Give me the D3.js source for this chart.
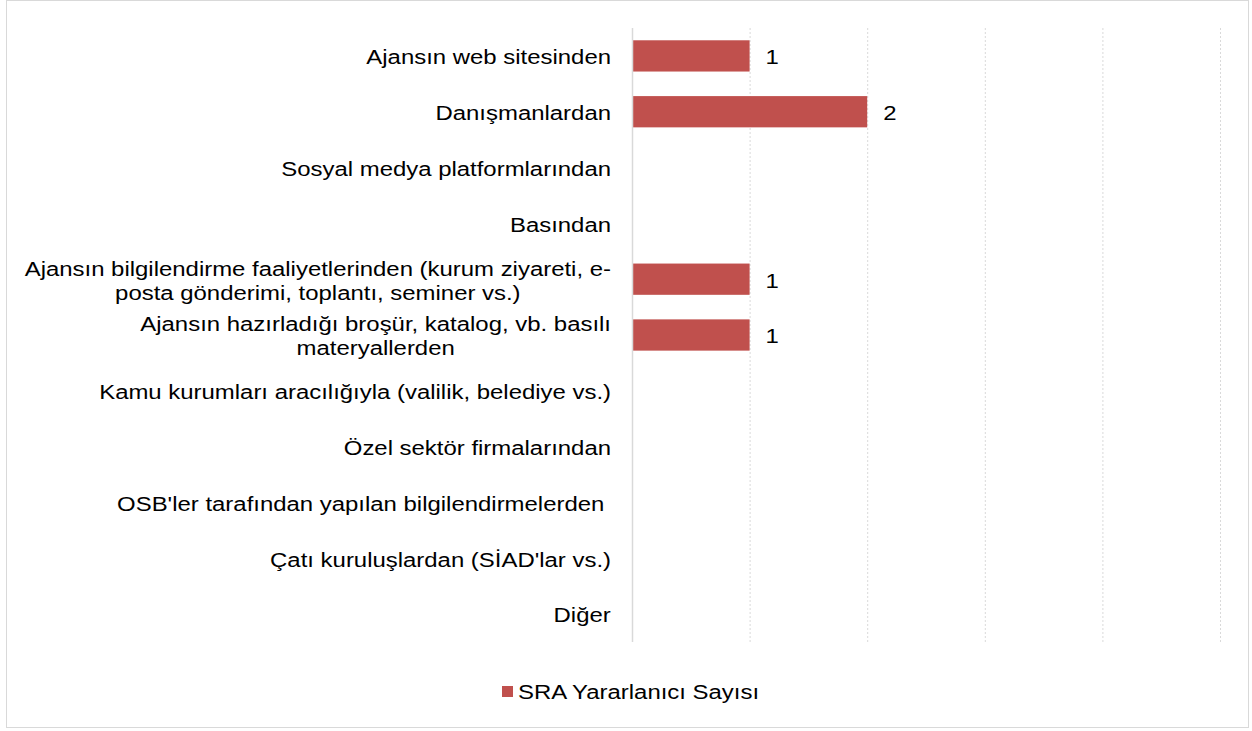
<!DOCTYPE html>
<html>
<head>
<meta charset="utf-8">
<script src="https://cdn.jsdelivr.net/npm/d3@7"></script>
<style>
  body { margin: 0; background: #fff; }
  text { font-family: "Liberation Sans", Arial, sans-serif; fill: #000; white-space: pre; }
</style>
</head>
<body>
<script>
// categories, each label split into its display lines
var categories = [
  ["Ajansın web sitesinden"],
  ["Danışmanlardan"],
  ["Sosyal medya platformlarından"],
  ["Basından"],
  ["Ajansın bilgilendirme faaliyetlerinden (kurum ziyareti, e-", "posta gönderimi, toplantı, seminer vs.)"],
  ["Ajansın hazırladığı broşür, katalog, vb. basılı", "materyallerden"],
  ["Kamu kurumları aracılığıyla (valilik, belediye vs.)"],
  ["Özel sektör firmalarından"],
  ["OSB'ler tarafından yapılan bilgilendirmelerden "],
  ["Çatı kuruluşlardan (SİAD'lar vs.)"],
  ["Diğer"]
];
var values = [1, 2, 0, 0, 1, 1, 0, 0, 0, 0, 0];
var xTicks = [0, 1, 2, 3, 4, 5];
var seriesName = "SRA Yararlanıcı Sayısı";

var W = 1252, H = 731;
var FS = "21px", SX = 1.14; // the reference text is slightly stretched sideways

var svg = d3.select("body").append("svg")
  .attr("width", W)
  .attr("height", H);

// chart frame
svg.append("rect")
  .attr("x", 6.5).attr("y", 0.5)
  .attr("width", 1242).attr("height", 727)
  .attr("fill", "#fff")
  .attr("stroke", "#d9d9d9")
  .attr("stroke-width", 1);

var x = d3.scaleLinear().domain([0, 5]).range([632, 1220]);
var y = d3.scaleBand()
  .domain(d3.range(categories.length))
  .range([28, 642])
  .paddingInner(0.44)
  .paddingOuter(0.22);

// helper: text placed at (ax, ay) and stretched horizontally
function label(ax, ay, anchor) {
  return svg.append("g")
    .attr("transform", "translate(" + ax + "," + ay + ") scale(" + SX + ",1)")
    .append("text")
    .attr("text-anchor", anchor)
    .style("font-size", FS);
}

// gridlines
svg.append("g").selectAll("line")
  .data(xTicks.slice(1))
  .enter().append("line")
  .attr("x1", function(d) { return x(d) + 0.5; })
  .attr("x2", function(d) { return x(d) + 0.5; })
  .attr("y1", 28).attr("y2", 642)
  .attr("stroke", "#d9d9d9")
  .attr("stroke-width", 1)
  .attr("stroke-dasharray", "2,2");

// bars
svg.append("g").selectAll("rect")
  .data(values)
  .enter().append("rect")
  .attr("x", x(0))
  .attr("y", function(d, i) { return y(i); })
  .attr("width", function(d) { return x(d) - x(0); })
  .attr("height", y.bandwidth())
  .attr("fill", "#c0504d");

// axis line
svg.append("line")
  .attr("x1", x(0) + 0.5).attr("x2", x(0) + 0.5)
  .attr("y1", 28).attr("y2", 642)
  .attr("stroke", "#d9d9d9")
  .attr("stroke-width", 1.5);

// value labels
values.forEach(function(d, i) {
  if (d <= 0) return;
  label(x(d) + 16, y(i) + y.bandwidth() / 2 + 1, "start")
    .attr("dy", "0.35em")
    .text(d);
});

// category labels (lines centred on each other, block right aligned)
var lineH = 24;
categories.forEach(function(lines, i) {
  var cy = y(i) + y.bandwidth() / 2 + 1;
  var t = label(0, cy, "middle");
  lines.forEach(function(l, k) {
    t.append("tspan")
      .attr("x", 0)
      .attr("y", (k - (lines.length - 1) / 2) * lineH)
      .attr("dy", "0.35em")
      .text(l);
  });
  var bb = t.node().getBBox();
  d3.select(t.node().parentNode)
    .attr("transform", "translate(" + (611 - bb.width * SX / 2) + "," + cy + ") scale(" + SX + ",1)");
});

// legend
svg.append("rect")
  .attr("x", 502).attr("y", 686)
  .attr("width", 11).attr("height", 11)
  .attr("fill", "#c0504d");
label(518, 692, "start")
  .attr("dy", "0.35em")
  .text(seriesName);
</script>
</body>
</html>
